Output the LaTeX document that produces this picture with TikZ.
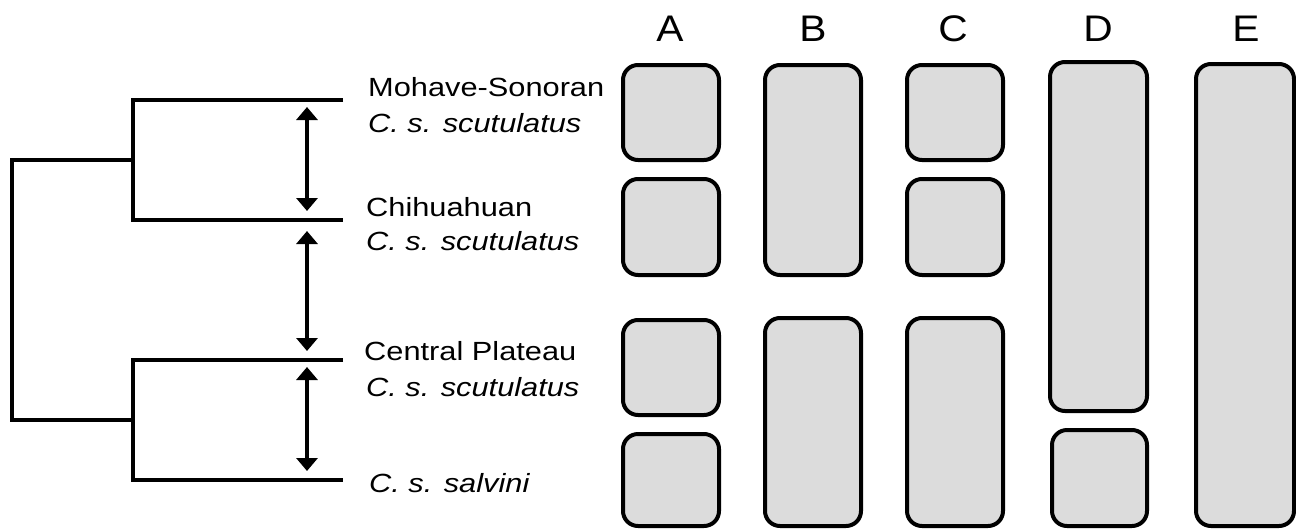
\documentclass[tikz,border=0pt]{standalone}
\usepackage{fontspec}
\setmainfont{Liberation Sans}
\newfontfamily\labfont[FakeStretch=1.17]{Liberation Sans}
\newfontfamily\letfont[FakeStretch=1.1]{Liberation Sans}
\usetikzlibrary{arrows.meta}
\begin{document}
\begin{tikzpicture}[x=1pt,y=-1pt,
  treeline/.style={line width=3.4pt, line join=miter},
  gap/.style={line width=3.4pt, {Triangle[width=21pt,length=13pt]}-{Triangle[width=21pt,length=13pt]}},
  lab/.style={anchor=base west, inner sep=0pt, font=\fontsize{26.3}{30}\labfont},
  col/.style={anchor=base, inner sep=0pt, font=\fontsize{37}{40}\letfont},
  blk/.style={draw=black, fill={rgb,255:red,220;green,220;blue,220}, line width=4pt, rounded corners=15pt}]
\useasboundingbox (0,0) rectangle (1296,528);
% tree
\coordinate (L1) at (343,100);
\coordinate (L2) at (343,220);
\coordinate (L3) at (343,360);
\coordinate (L4) at (343,480);
\coordinate (u) at (133,160);
\coordinate (w) at (133,420);
\coordinate (r) at (12,290);
\draw[treeline] (L1) -| (u) |- (L2);
\draw[treeline] (L3) -| (w) |- (L4);
\draw[treeline] (u) -| (r) |- (w);
% arrows
\coordinate (a1) at (307,107);
\coordinate (a2) at (307,211);
\coordinate (a3) at (307,231);
\coordinate (a4) at (307,351);
\coordinate (a5) at (307,367);
\coordinate (a6) at (307,471);
\draw[gap] (a1) -- (a2);
\draw[gap] (a3) -- (a4);
\draw[gap] (a5) -- (a6);
% labels
\node[lab] (m1) at (368,96.7) {Mohave-Sonoran};
\node[lab] (m2) at (368,132) {\itshape C. s. scutulatus};
\node[lab] (c1) at (366,216.7) {Chihuahuan};
\node[lab] (c2) at (366,250) {\itshape C. s. scutulatus};
\node[lab] (p1) at (364,360.7) {Central Plateau};
\node[lab] (p2) at (366,396.7) {\itshape C. s. scutulatus};
\node[lab] (s1) at (369,492) {\itshape C. s. salvini};
% column letters
\node[col] (hA) at (670,41.5) {A};
\node[col] (hB) at (813,41.5) {B};
\node[col] (hC) at (953,41.5) {C};
\node[col] (hD) at (1098,41.5) {D};
\node[col] (hE) at (1246,41.5) {E};
% blocks
\draw[blk] (623,65) rectangle (719,160);
\draw[blk] (623,179) rectangle (719,275);
\draw[blk] (623,320) rectangle (719,415);
\draw[blk] (623,434) rectangle (719,526);
\draw[blk] (765,65) rectangle (861,275);
\draw[blk] (765,318) rectangle (861,526);
\draw[blk] (907,65) rectangle (1003,160);
\draw[blk] (907,179) rectangle (1003,275);
\draw[blk] (907,318) rectangle (1003,526);
\draw[blk] (1050,62) rectangle (1147,411);
\draw[blk] (1052,430) rectangle (1147,526);
\draw[blk] (1196,64) rectangle (1294,526);
\end{tikzpicture}
\end{document}
